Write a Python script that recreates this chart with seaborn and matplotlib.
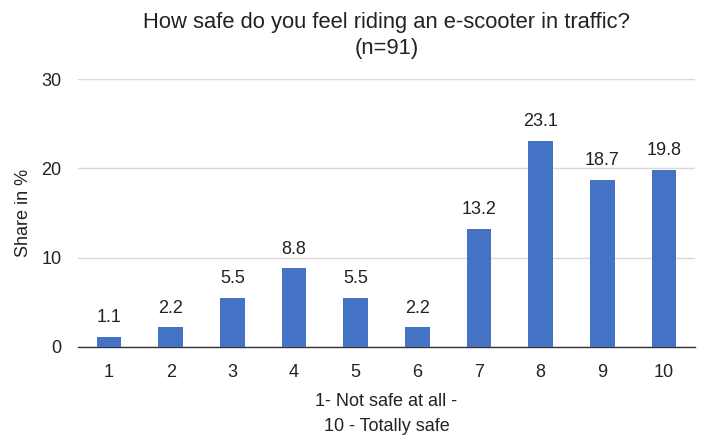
import matplotlib
matplotlib.use("Agg")
import matplotlib.pyplot as plt
import seaborn as sns
import pandas as pd

categories = ["1", "2", "3", "4", "5", "6", "7", "8", "9", "10"]
shares = [1.1, 2.2, 5.5, 8.8, 5.5, 2.2, 13.2, 23.1, 18.7, 19.8]
y_ticks = [0, 10, 20, 30]

sns.set_theme(style="white")
plt.rcParams["font.family"] = ["Liberation Sans", "DejaVu Sans"]

df = pd.DataFrame({"rating": categories, "share": shares})

fig = plt.figure(figsize=(7.04, 4.37), dpi=100)
ax = fig.add_axes([0.111, 0.206, 0.876, 0.613])

sns.barplot(data=df, x="rating", y="share", color="#4472C4", width=0.4,
            saturation=1, linewidth=0, ax=ax, zorder=3)

ax.set_ylim(0, 30)
ax.set_xlim(-0.5, len(categories) - 0.5)
ax.set_yticks(y_ticks)
ax.yaxis.grid(True, color="#d9d9d9", linewidth=1, zorder=0)
ax.set_axisbelow(True)
for side in ["top", "right", "left"]:
    ax.spines[side].set_visible(False)
ax.spines["bottom"].set_color("#333333")
ax.spines["bottom"].set_linewidth(1)
ax.tick_params(axis="both", length=0, labelsize=13, colors="#222222", pad=12)

for i, v in enumerate(shares):
    ax.text(i, v + 1.2, f"{v:.1f}", ha="center", va="bottom",
            fontsize=13, color="#222222")

ax.set_xlabel("1- Not safe at all -\n10 - Totally safe", fontsize=13,
              color="#222222", labelpad=9, linespacing=1.57)
ax.set_ylabel("Share in %", fontsize=13, color="#222222", labelpad=7)
ax.set_title("How safe do you feel riding an e-scooter in traffic?\n(n=91)",
             fontsize=15.8, color="#222222", pad=18, linespacing=1.32)

fig.savefig("out.png", dpi=100)
